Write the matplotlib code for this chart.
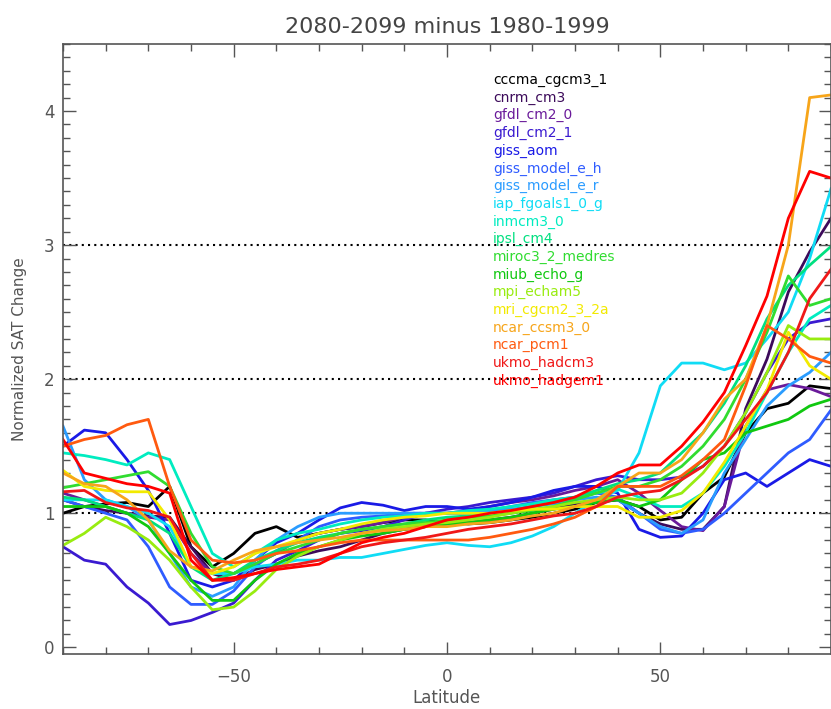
import numpy as np
import matplotlib
matplotlib.use('Agg')
import matplotlib.pyplot as plt

# latitude grid, 5 degree steps from -90 to 90
lat = np.arange(-90, 91, 5)

models = ['cccma_cgcm3_1', 'cnrm_cm3', 'gfdl_cm2_0', 'gfdl_cm2_1', 'giss_aom',
          'giss_model_e_h', 'giss_model_e_r', 'iap_fgoals1_0_g', 'inmcm3_0',
          'ipsl_cm4', 'miroc3_2_medres', 'miub_echo_g', 'mpi_echam5',
          'mri_cgcm2_3_2a', 'ncar_ccsm3_0', 'ncar_pcm1', 'ukmo_hadcm3', 'ukmo_hadgem1']

colors = ['#000000', '#3c0a5a', '#6a1a9a', '#3a1ad0', '#1a1ae6', '#2f5cff',
          '#2a9cff', '#10dcf5', '#00ecc0', '#00e080', '#30dc30', '#10c810',
          '#98ec10', '#f2ea00', '#f7a51a', '#ff5a10', '#f01818', '#ff0000']

cccma_cgcm3_1 = [1.0, 1.05, 1.07, 1.08, 1.05, 1.2, 0.75, 0.6, 0.7, 0.85, 0.9, 0.82, 0.85, 0.88, 0.9, 0.93, 0.95, 0.95, 0.93,
                 0.92, 0.93, 0.95, 0.97, 1.0, 1.03, 1.08, 1.1, 1.05, 0.95, 0.97, 1.15, 1.27, 1.6, 1.78, 1.82, 1.95, 1.93]
cnrm_cm3 = [1.1, 1.05, 1.02, 1.0, 0.98, 0.97, 0.75, 0.55, 0.5, 0.58, 0.62, 0.68, 0.72, 0.75, 0.8, 0.85, 0.88, 0.9, 0.92,
            0.93, 0.95, 0.97, 1.0, 1.03, 1.07, 1.1, 1.1, 1.0, 0.92, 0.88, 0.88, 1.05, 1.78, 2.15, 2.65, 2.95, 3.2]
gfdl_cm2_0 = [1.15, 1.1, 1.05, 1.0, 0.97, 0.95, 0.7, 0.55, 0.55, 0.62, 0.7, 0.8, 0.85, 0.88, 0.9, 0.93, 0.97, 1.0, 1.0,
              1.02, 1.05, 1.08, 1.1, 1.13, 1.17, 1.2, 1.25, 1.15, 1.02, 0.9, 0.87, 1.05, 1.65, 1.92, 1.96, 1.93, 1.87]
gfdl_cm2_1 = [0.75, 0.65, 0.62, 0.45, 0.33, 0.17, 0.2, 0.26, 0.33, 0.5, 0.65, 0.72, 0.8, 0.85, 0.87, 0.9, 0.95, 1.0, 1.03,
              1.05, 1.08, 1.1, 1.12, 1.15, 1.2, 1.25, 1.28, 1.25, 1.25, 1.27, 1.35, 1.5, 1.75, 2.05, 2.3, 2.42, 2.45]
giss_aom = [1.5, 1.62, 1.6, 1.4, 1.17, 0.85, 0.5, 0.45, 0.5, 0.65, 0.78, 0.85, 0.95, 1.04, 1.08, 1.06, 1.02, 1.05, 1.05,
            1.03, 1.05, 1.08, 1.12, 1.17, 1.2, 1.2, 1.15, 0.88, 0.82, 0.83, 1.0, 1.25, 1.3, 1.2, 1.3, 1.4, 1.35]
giss_model_e_h = [1.1, 1.05, 1.0, 0.95, 0.75, 0.45, 0.32, 0.32, 0.42, 0.6, 0.72, 0.8, 0.9, 0.95, 0.97, 0.98, 1.0, 1.0, 1.0,
                  1.0, 1.02, 1.05, 1.08, 1.1, 1.12, 1.15, 1.12, 1.0, 0.88, 0.85, 0.88, 1.0, 1.15, 1.3, 1.45, 1.55, 1.77]
giss_model_e_r = [1.65, 1.25, 1.1, 1.05, 0.95, 0.7, 0.45, 0.38, 0.45, 0.65, 0.8, 0.9, 0.97, 1.0, 1.0, 1.0, 1.0, 1.0, 1.0,
                  1.0, 1.02, 1.03, 1.05, 1.07, 1.1, 1.12, 1.1, 1.0, 0.9, 0.85, 0.95, 1.3, 1.55, 1.8, 1.95, 2.05, 2.2]
iap_fgoals1_0_g = [1.1, 1.1, 1.1, 1.05, 1.0, 0.9, 0.6, 0.55, 0.55, 0.6, 0.62, 0.65, 0.65, 0.67, 0.67, 0.7, 0.73, 0.76, 0.78,
                   0.76, 0.75, 0.78, 0.83, 0.9, 1.0, 1.1, 1.17, 1.45, 1.95, 2.12, 2.12, 2.07, 2.12, 2.3, 2.5, 2.9, 3.42]
inmcm3_0 = [1.45, 1.43, 1.4, 1.36, 1.45, 1.4, 1.05, 0.7, 0.6, 0.7, 0.8, 0.85, 0.88, 0.92, 0.95, 0.97, 0.98, 1.0, 1.0,
            1.02, 1.03, 1.05, 1.07, 1.1, 1.12, 1.15, 1.18, 1.12, 1.05, 1.05, 1.15, 1.35, 1.6, 1.9, 2.2, 2.45, 2.55]
ipsl_cm4 = [1.12, 1.1, 1.05, 1.0, 0.95, 0.85, 0.6, 0.5, 0.55, 0.65, 0.72, 0.78, 0.82, 0.85, 0.88, 0.9, 0.92, 0.95, 0.97,
            0.98, 1.0, 1.02, 1.05, 1.08, 1.12, 1.17, 1.22, 1.25, 1.3, 1.45, 1.6, 1.82, 2.1, 2.45, 2.7, 2.85, 2.99]
miroc3_2_medres = [1.19, 1.22, 1.25, 1.28, 1.31, 1.2, 0.85, 0.6, 0.55, 0.62, 0.7, 0.75, 0.8, 0.85, 0.88, 0.9, 0.92, 0.93, 0.95,
                   0.97, 0.98, 1.0, 1.02, 1.05, 1.1, 1.15, 1.2, 1.2, 1.25, 1.35, 1.5, 1.7, 2.0, 2.35, 2.77, 2.55, 2.6]
miub_echo_g = [1.05, 1.05, 1.05, 1.0, 0.9, 0.7, 0.5, 0.35, 0.35, 0.5, 0.62, 0.7, 0.75, 0.8, 0.83, 0.85, 0.88, 0.9, 0.92,
               0.93, 0.95, 0.97, 1.0, 1.03, 1.05, 1.08, 1.1, 1.05, 1.1, 1.25, 1.4, 1.45, 1.6, 1.65, 1.7, 1.8, 1.85]
mpi_echam5 = [0.76, 0.85, 0.97, 0.9, 0.8, 0.65, 0.45, 0.28, 0.3, 0.42, 0.58, 0.68, 0.75, 0.8, 0.85, 0.88, 0.9, 0.92, 0.93,
              0.95, 0.97, 1.0, 1.03, 1.05, 1.08, 1.1, 1.12, 1.1, 1.1, 1.15, 1.3, 1.5, 1.75, 2.05, 2.4, 2.3, 2.3]
mri_cgcm2_3_2a = [1.32, 1.2, 1.17, 1.16, 1.16, 0.95, 0.6, 0.55, 0.6, 0.7, 0.75, 0.8, 0.85, 0.88, 0.92, 0.95, 0.97, 0.98, 1.0,
                  1.0, 1.0, 1.02, 1.03, 1.03, 1.05, 1.05, 1.05, 0.97, 0.97, 1.02, 1.15, 1.38, 1.65, 1.92, 2.35, 2.1, 2.0]
ncar_ccsm3_0 = [1.3, 1.22, 1.2, 1.1, 0.95, 0.72, 0.6, 0.57, 0.65, 0.72, 0.75, 0.78, 0.8, 0.82, 0.85, 0.87, 0.88, 0.9, 0.9,
                0.92, 0.93, 0.95, 0.98, 1.0, 1.05, 1.1, 1.2, 1.3, 1.3, 1.4, 1.6, 1.85, 2.0, 2.4, 3.0, 4.1, 4.12]
ncar_pcm1 = [1.5, 1.55, 1.58, 1.66, 1.7, 1.2, 0.8, 0.65, 0.63, 0.65, 0.7, 0.72, 0.75, 0.78, 0.8, 0.8, 0.8, 0.8, 0.8,
             0.8, 0.82, 0.85, 0.88, 0.92, 0.97, 1.05, 1.2, 1.2, 1.2, 1.28, 1.4, 1.55, 1.95, 2.4, 2.3, 2.17, 2.12]
ukmo_hadcm3 = [1.16, 1.17, 1.08, 1.04, 1.02, 0.97, 0.7, 0.5, 0.5, 0.55, 0.6, 0.62, 0.65, 0.7, 0.75, 0.78, 0.8, 0.82, 0.85,
               0.88, 0.9, 0.92, 0.95, 0.98, 1.0, 1.05, 1.12, 1.15, 1.17, 1.25, 1.35, 1.5, 1.7, 1.9, 2.2, 2.6, 2.82]
ukmo_hadgem1 = [1.55, 1.3, 1.26, 1.22, 1.2, 1.15, 0.65, 0.5, 0.52, 0.55, 0.58, 0.6, 0.62, 0.7, 0.78, 0.82, 0.85, 0.9, 0.95,
                0.97, 1.0, 1.02, 1.05, 1.08, 1.12, 1.2, 1.3, 1.36, 1.36, 1.5, 1.68, 1.9, 2.25, 2.62, 3.2, 3.55, 3.5]

series = [cccma_cgcm3_1, cnrm_cm3, gfdl_cm2_0, gfdl_cm2_1, giss_aom, giss_model_e_h, giss_model_e_r,
          iap_fgoals1_0_g, inmcm3_0, ipsl_cm4, miroc3_2_medres, miub_echo_g, mpi_echam5, mri_cgcm2_3_2a,
          ncar_ccsm3_0, ncar_pcm1, ukmo_hadcm3, ukmo_hadgem1]

ref_levels = [1, 2, 3]
grey = '#555555'

fig = plt.figure(figsize=(8.31, 7.09), dpi=100)
ax = fig.add_axes([63 / 831, 55 / 709, 768 / 831, 610 / 709])

for lvl in ref_levels:
    ax.axhline(lvl, color='black', linestyle=(0, (1, 2)), linewidth=1.5, zorder=1)

for vals, c in zip(series, colors):
    ax.plot(lat, vals, color=c, linewidth=2.0, zorder=2)

# model names as coloured text, no handles
for i, (name, c) in enumerate(zip(models, colors)):
    ax.text(0.56, 0.941 - i * 0.029, name, color=c, fontsize=10,
            transform=ax.transAxes, va='center', ha='left')

ax.set_xlim(-90, 90)
ax.set_ylim(-0.05, 4.5)
ax.set_xticks([-50, 0, 50])
ax.set_xticks(np.arange(-90, 91, 10), minor=True)
ax.set_yticks([0, 1, 2, 3, 4])
ax.set_yticks(np.arange(0, 4.51, 0.1), minor=True)
ax.tick_params(which='both', direction='in', top=True, right=True, colors=grey, labelsize=12)
ax.tick_params(which='major', length=9, width=1)
ax.tick_params(which='minor', length=5, width=1)
ax.tick_params(axis='x', which='major', pad=10)
ax.tick_params(axis='y', which='major', pad=6)
for s in ax.spines.values():
    s.set_color(grey)
    s.set_linewidth(1.2)

ax.set_xlabel('Latitude', fontsize=12, color=grey, labelpad=2)
ax.set_ylabel('Normalized SAT Change', fontsize=11, color=grey, labelpad=12)
ax.set_title('2080-2099 minus 1980-1999', fontsize=16, color='#444444', pad=8)

fig.savefig('out.png', dpi=100)
